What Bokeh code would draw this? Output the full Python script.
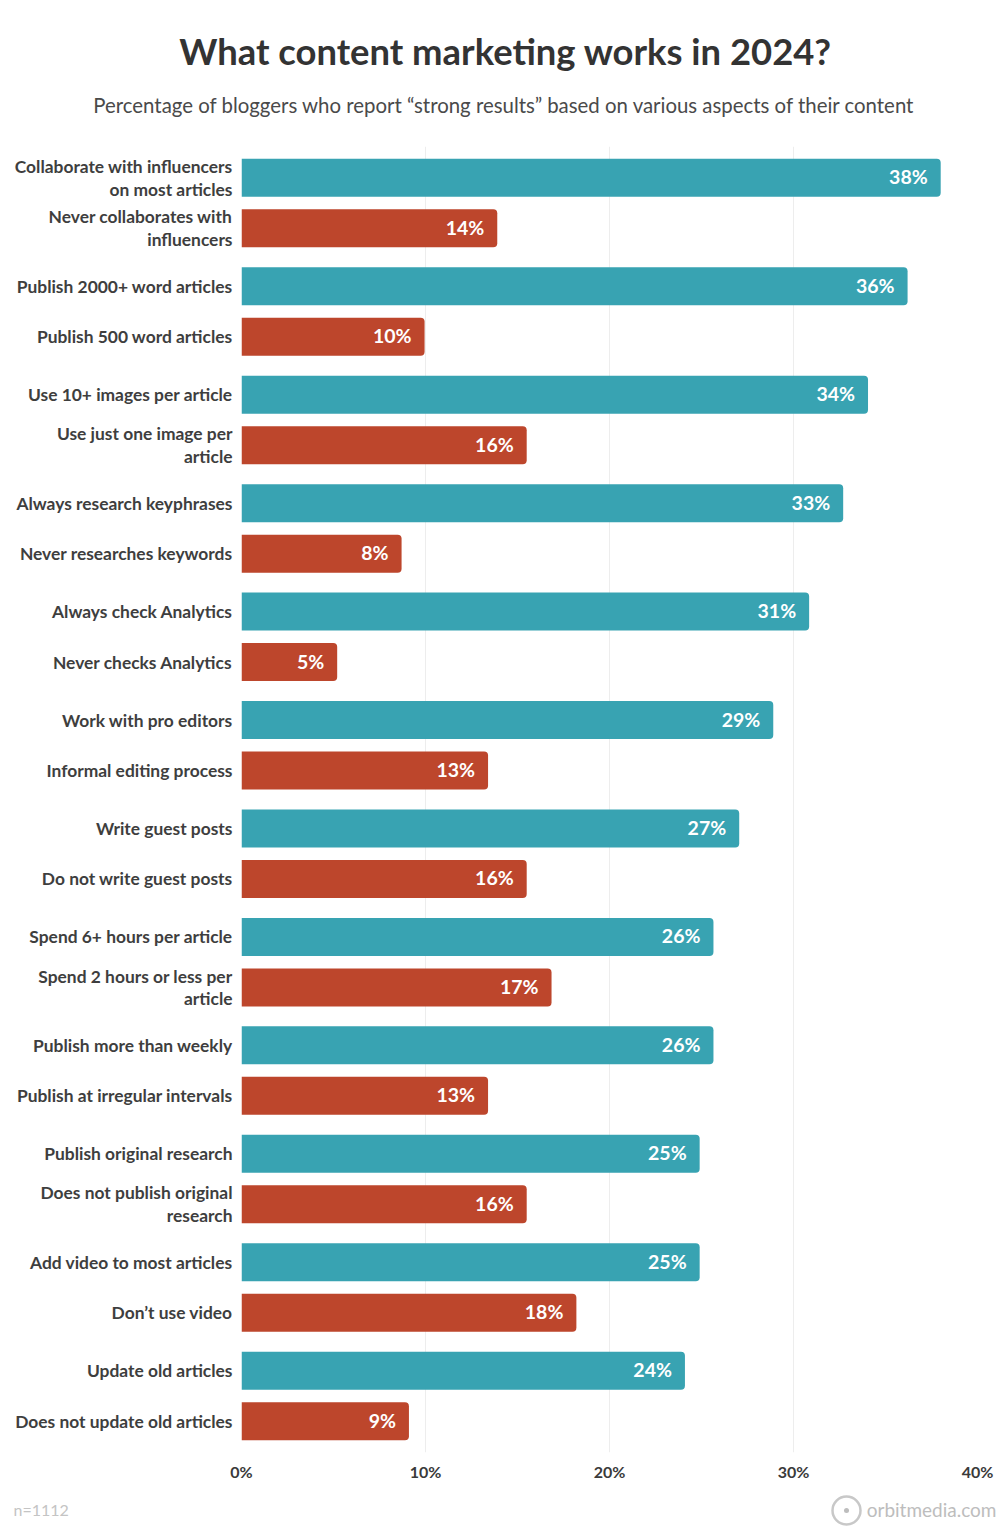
from bokeh.core.properties import value
from bokeh.embed import file_html
from bokeh.layouts import column
from bokeh.models import ColumnDataSource, FactorRange, FixedTicker, PrintfTickFormatter
from bokeh.plotting import figure
from bokeh.resources import INLINE

TITLE = "What content marketing works in 2024?"
SUBTITLE = "Percentage of bloggers who report “strong results” based on various aspects of their content"
NOTE = "n=1112"
BRAND = "orbitmedia.com"

pairs = ["a", "b", "c", "d", "e", "f", "g", "h", "i", "j", "k", "l"]
labels_top = [
    "Collaborate with influencers\non most articles", "Publish 2000+ word articles",
    "Use 10+ images per article", "Always research keyphrases", "Always check Analytics",
    "Work with pro editors", "Write guest posts", "Spend 6+ hours per article",
    "Publish more than weekly", "Publish original research", "Add video to most articles",
    "Update old articles",
]
labels_bottom = [
    "Never collaborates with\ninfluencers", "Publish 500 word articles",
    "Use just one image per\narticle", "Never researches keywords", "Never checks Analytics",
    "Informal editing process", "Do not write guest posts", "Spend 2 hours or less per\narticle",
    "Publish at irregular intervals", "Does not publish original\nresearch", "Don’t use video",
    "Does not update old articles",
]
values_top = [38.0, 36.2, 34.05, 32.7, 30.85, 28.9, 27.05, 25.65, 25.65, 24.9, 24.9, 24.1]
values_bottom = [13.9, 9.95, 15.5, 8.7, 5.2, 13.4, 15.5, 16.85, 13.4, 15.5, 18.2, 9.1]
shown_top = ["38%", "36%", "34%", "33%", "31%", "29%", "27%", "26%", "26%", "25%", "25%", "24%"]
shown_bottom = ["14%", "10%", "16%", "8%", "5%", "13%", "16%", "17%", "13%", "16%", "18%", "9%"]
x_ticks = [0, 10, 20, 30, 40]

TEAL = "#38A3B2"
RUST = "#BD462C"
FONT = value("Lato")
W = 1007


def strip(height):
    f = figure(width=W, height=height, x_range=(0, W), y_range=(height, 0), output_backend="svg",
               toolbar_location=None, min_border=0, x_axis_location=None, y_axis_location=None,
               frame_align=False)
    f.grid.visible = False
    f.outline_line_color = None
    return f


head = strip(146)
head.text(x=[505], y=[50], text=[TITLE], text_align="center", text_baseline="middle", text_font=FONT,
          text_font_style="bold", text_font_size="36.4px", text_color="#333333")
head.text(x=[504], y=[104], text=[SUBTITLE], text_align="center", text_baseline="middle", text_font=FONT,
          text_font_size="20.4px", text_color="#4A4A4A")

factors = []
for g, a, b in zip(pairs, labels_top, labels_bottom):
    factors += [(g, a), (g, b)]

y_range = FactorRange(*reversed(factors), factor_padding=0, group_padding=0.1475,
                      range_padding=0.12, range_padding_units="absolute")

p = figure(width=W, height=1339, x_range=(0, 40), y_range=y_range,
           output_backend="svg", toolbar_location=None, frame_align=False,
           min_border_left=241, min_border_right=30, min_border_top=0, min_border_bottom=33)
p.outline_line_color = None
p.background_fill_color = "white"

src_top = ColumnDataSource(dict(y=list(zip(pairs, labels_top)), v=values_top, t=shown_top))
src_bot = ColumnDataSource(dict(y=list(zip(pairs, labels_bottom)), v=values_bottom, t=shown_bottom))

for src, col in ((src_top, TEAL), (src_bot, RUST)):
    p.hbar(y="y", left=0, right="v", height=38 / 50.5, source=src, fill_color=col, line_color=None,
           border_radius=(0, 4, 4, 0))
    p.text(x="v", y="y", text="t", source=src, x_offset=-13, y_offset=-1, text_align="right",
           text_baseline="middle", text_color="white", text_font=FONT, text_font_style="bold",
           text_font_size="19.5px")

p.ygrid.visible = False
p.xgrid.grid_line_color = "#EDEDED"
p.xgrid.ticker = FixedTicker(ticks=x_ticks)

xa = p.xaxis[0]
xa.ticker = FixedTicker(ticks=x_ticks)
xa.formatter = PrintfTickFormatter(format="%d%%")
xa.axis_line_color = None
xa.major_tick_line_color = None
xa.minor_tick_line_color = None
xa.major_label_standoff = 3
xa.major_label_text_font = "Lato"
xa.major_label_text_font_style = "bold"
xa.major_label_text_font_size = "16px"
xa.major_label_text_color = "#3A3A3A"

ya = p.yaxis[0]
ya.axis_line_color = None
ya.major_tick_line_color = None
ya.minor_tick_line_color = None
ya.separator_line_color = None
ya.major_label_standoff = 3
ya.major_label_text_font = "Lato"
ya.major_label_text_font_style = "bold"
ya.major_label_text_font_size = "17.4px"
ya.major_label_text_color = "#3E3E3E"
ya.major_label_text_line_height = 1.08
ya.group_text_color = None
ya.group_text_font_size = "1px"
ya.major_label_orientation = "horizontal"

foot = strip(51)
foot.text(x=[13], y=[24], text=[NOTE], text_baseline="middle", text_font=FONT, text_font_size="16px",
          text_color="#C4C4C4")
foot.text(x=[996], y=[24], text=[BRAND], text_align="right", text_baseline="middle", text_font=FONT,
          text_font_size="19px", text_color="#BDBDBD")
foot.scatter(x=[846], y=[25], size=28, marker="circle", fill_color=None, line_color="#C8C8C8", line_width=2.5)
foot.scatter(x=[846], y=[25], size=5, marker="circle", fill_color="#BDBDBD", line_color=None)

page = column(head, p, foot, spacing=0)
open("out.html", "w").write(file_html(page, INLINE))
